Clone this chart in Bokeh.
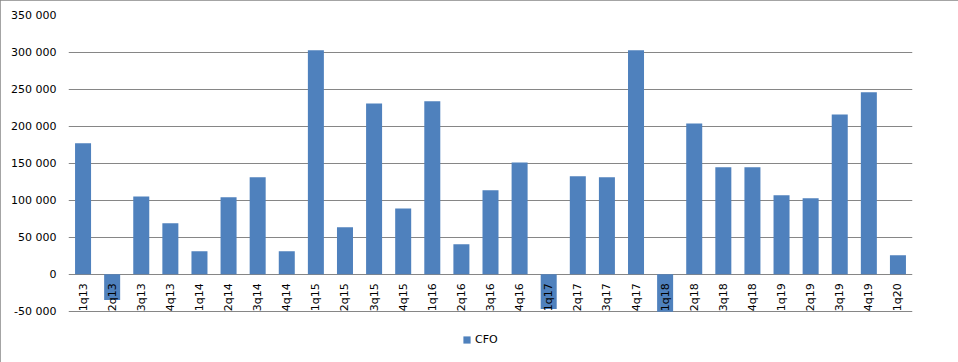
from bokeh.plotting import figure
from bokeh.models import FactorRange, Range1d, FixedTicker, Legend, LegendItem, ColumnDataSource
from bokeh.core.properties import value
from bokeh.embed import file_html
from bokeh.resources import INLINE
import math

quarters = ["1q13", "2q13", "3q13", "4q13", "1q14", "2q14", "3q14", "4q14",
            "1q15", "2q15", "3q15", "4q15", "1q16", "2q16", "3q16", "4q16",
            "1q17", "2q17", "3q17", "4q17", "1q18", "2q18", "3q18", "4q18",
            "1q19", "2q19", "3q19", "4q19", "1q20"]
cfo = [177000, -35000, 105000, 69000, 31000, 104000, 131000, 31000,
       303000, 63500, 231000, 89000, 234000, 40500, 113500, 151000,
       -47000, 132500, 131000, 303000, -51000, 204000, 144600, 144600,
       106800, 102700, 216200, 246000, 25700]
y_ticks = [-50000, 0, 50000, 100000, 150000, 200000, 250000, 300000, 350000]
y_tick_labels = ["-50 000", "0", "50 000", "100 000", "150 000", "200 000",
                 "250 000", "300 000", "350 000"]

FONT = "DejaVu Sans"
GRID = "#868686"
BAR = "#4F81BD"

src = ColumnDataSource(dict(q=quarters, v=cfo, zero=[0] * len(quarters)))

# frame runs from the top gridline down to the bottom of the chart so that the
# legend (drawn inside the frame) sits under the -50 000 line
p = figure(width=958, height=362, output_backend="svg", toolbar_location=None,
           x_range=FactorRange(factors=quarters, range_padding=0),
           y_range=Range1d(-106000, 350000),
           min_border_left=68, min_border_right=46, min_border_top=15, min_border_bottom=10)
p.outline_line_color = None
p.styles = {"outline": "1px solid #868686", "outline-offset": "-1px"}

r = p.vbar(x="q", top="v", width=0.55, source=src, fill_color=BAR, line_color=None)

p.text(x="q", y="zero", text="q", source=src, angle=math.pi / 2,
       text_align="right", text_baseline="middle", y_offset=9,
       text_font=value(FONT), text_font_size="11px", text_color="black")

p.xaxis.visible = False
p.xgrid.visible = False

p.yaxis.ticker = FixedTicker(ticks=y_ticks)
p.yaxis.major_label_overrides = {t: l for t, l in zip(y_ticks, y_tick_labels)}
p.yaxis.axis_line_color = None
p.yaxis.major_tick_line_color = None
p.yaxis.minor_tick_line_color = None
p.yaxis.major_tick_out = 0
p.yaxis.major_label_standoff = 12
p.yaxis.major_label_text_font = FONT
p.yaxis.major_label_text_font_size = "11px"
p.yaxis.major_label_text_color = "black"

p.ygrid.ticker = FixedTicker(ticks=y_ticks)
p.ygrid.grid_line_color = GRID
p.ygrid.grid_line_width = 1

legend = Legend(items=[LegendItem(label="CFO", renderers=[r])], location=(394, 6),
                orientation="horizontal", border_line_color=None, background_fill_alpha=0,
                padding=0, margin=0, glyph_width=9, glyph_height=9, label_height=9,
                label_standoff=4, label_text_font=FONT, label_text_font_size="11px",
                label_text_color="black")
p.add_layout(legend, "center")

open("out.html", "w").write(file_html(p, INLINE))
